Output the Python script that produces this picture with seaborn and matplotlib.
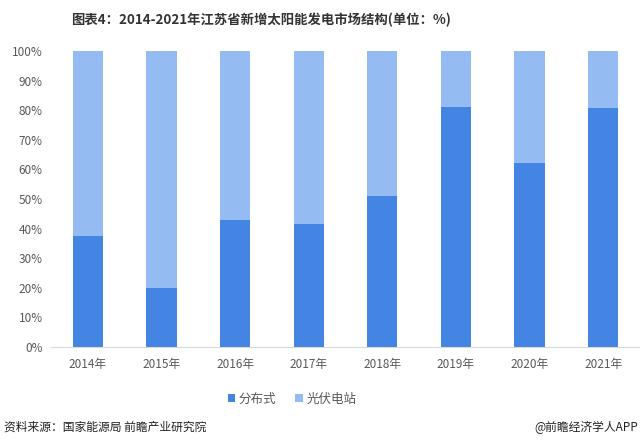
import matplotlib
matplotlib.use("Agg")
import matplotlib.pyplot as plt
import seaborn as sns
import pandas as pd
from matplotlib.patches import Patch
from matplotlib.ticker import FuncFormatter

years = ["2014年", "2015年", "2016年", "2017年", "2018年", "2019年", "2020年", "2021年"]
distributed = [37.5, 19.9, 42.9, 41.6, 51.0, 81.1, 62.2, 80.7]
station = [100 - v for v in distributed]
series_names = ["分布式", "光伏电站"]
title = "图表4：2014-2021年江苏省新增太阳能发电市场结构(单位：%)"
source = "资料来源：国家能源局 前瞻产业研究院"
credit = "@前瞻经济学人APP"

dark = "#4484e3"
light = "#94bbf2"

sns.set_theme(style="white")
plt.rcParams["font.family"] = ["Noto Sans CJK SC", "DejaVu Sans"]

df = pd.DataFrame({"year": years, "dist": distributed, "station": station})
df["total"] = df["dist"] + df["station"]

fig = plt.figure(figsize=(6.4, 4.46), dpi=100)
ax = fig.add_axes([51 / 640, 1 - 347 / 446, (640 - 51) / 640, (347 - 51) / 446])

sns.barplot(data=df, x="year", y="total", color=light, width=0.41, ax=ax,
            saturation=1, edgecolor="none")
sns.barplot(data=df, x="year", y="dist", color=dark, width=0.41, ax=ax,
            saturation=1, edgecolor="none")

ax.set_ylim(0, 100)
ax.set_yticks(range(0, 101, 10))
ax.yaxis.set_major_formatter(FuncFormatter(lambda v, p: f"{int(v)}%"))
ax.set_xlabel("")
ax.set_ylabel("")
for s in ["top", "right", "left"]:
    ax.spines[s].set_visible(False)
ax.spines["bottom"].set_color("#d9d9d9")
ax.spines["bottom"].set_linewidth(0.8)
ax.tick_params(axis="y", length=0, labelsize=8.5, labelcolor="#595959", pad=6)
ax.tick_params(axis="x", length=0, labelsize=8.5, labelcolor="#595959", pad=8)

fig.text(0.407, 1 - 20 / 446, title, ha="center", va="center",
         fontsize=9.6, fontweight="bold", color="#333333")

handles = [Patch(facecolor=dark, edgecolor="none"), Patch(facecolor=light, edgecolor="none")]
fig.legend(handles, series_names, loc="center", bbox_to_anchor=(292 / 640, 1 - 399 / 446),
           ncol=2, frameon=False, fontsize=9, handlelength=0.6, handleheight=0.6,
           handletextpad=0.3, columnspacing=1.5, labelcolor="#595959")

fig.text(4 / 640, 1 - 427 / 446, source, ha="left", va="center", fontsize=8.5, color="#222222")
fig.text(638 / 640, 1 - 427 / 446, credit, ha="right", va="center", fontsize=8.5, color="#222222")

fig.savefig("out.png", dpi=100, facecolor="white")
